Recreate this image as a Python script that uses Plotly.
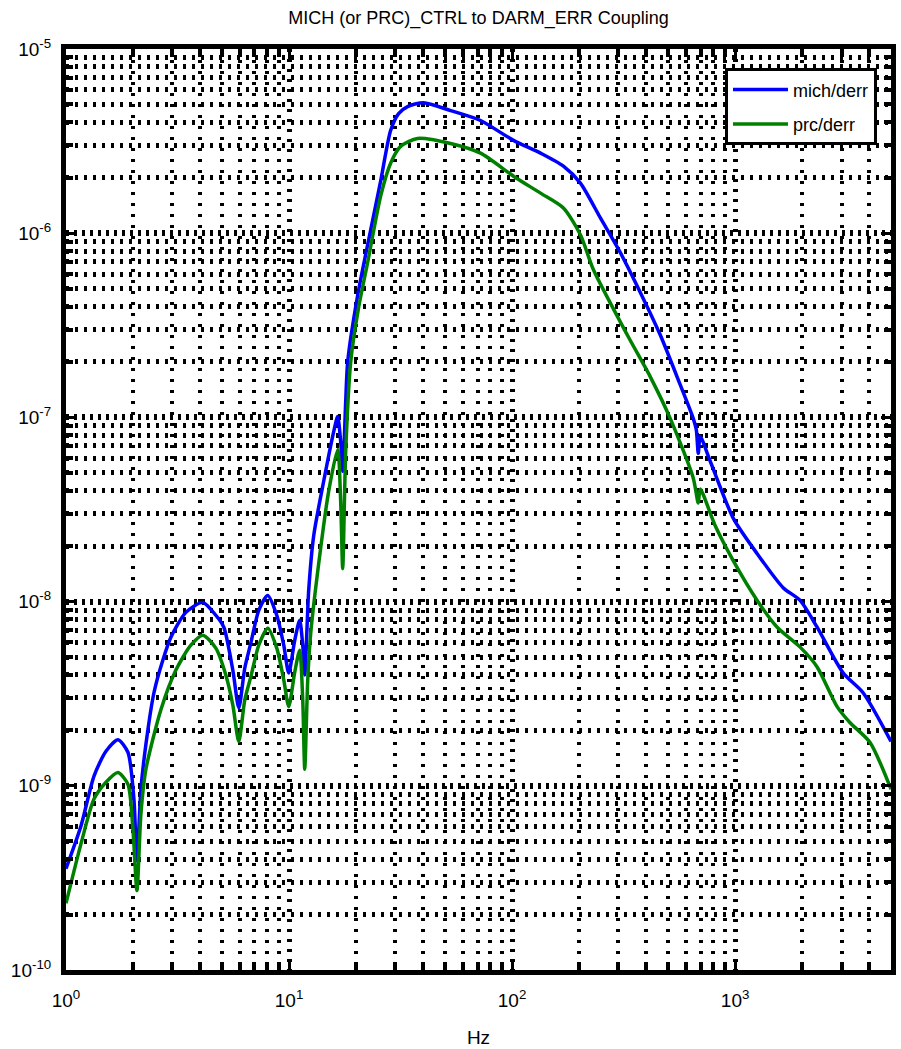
import math
import plotly.graph_objects as go

# Coupling transfer functions (magnitude) read as frequency [Hz] / value pairs
mich_f = [1.0, 1.167, 1.335, 1.511, 1.71, 1.895, 2.016, 2.08, 2.167, 2.282,
          2.479, 2.719, 2.953, 3.447, 4.107, 4.696, 5.10, 5.596, 5.953, 6.333,
          6.738, 7.317, 8.027, 8.81, 9.469, 9.97, 10.61, 11.16, 11.52, 11.76,
          12.25, 12.9, 14.3, 15.86, 16.52, 17.04, 17.4, 17.95, 18.32, 20.31,
          23.22, 25.75, 28.54, 30.99, 34.0, 40.11, 52.98, 72.2, 101.5, 134.1,
          169.9, 202.5, 248.9, 305.8, 375.8, 461.9, 567.7, 649.4, 669.7, 683.7,
          697.9, 773.5, 980.6, 1256, 1642, 1957, 2332, 3049, 3747, 5000]
mich_v = [3.55e-10, 6.05e-10, 1.13e-9, 1.54e-9, 1.78e-9, 1.52e-9, 8.47e-10, 3.92e-10, 9.59e-10, 1.68e-9,
          3.2e-9, 4.82e-9, 6.41e-9, 8.74e-9, 9.9e-9, 8.43e-9, 7.26e-9, 4.25e-9, 2.65e-9, 4.36e-9,
          5.95e-9, 8.96e-9, 1.08e-8, 8.43e-9, 5.8e-9, 4.1e-9, 6.18e-9, 7.92e-9, 5.8e-9, 4.0e-9,
          1.15e-8, 2.28e-8, 4.5e-8, 8.38e-8, 1.01e-7, 7.4e-8, 5.1e-8, 1.22e-7, 2.0e-7, 4.6e-7,
          1.04e-6, 1.92e-6, 3.61e-6, 4.46e-6, 4.87e-6, 5.11e-6, 4.63e-6, 4.09e-6, 3.19e-6, 2.72e-6,
          2.31e-6, 1.87e-6, 1.21e-6, 7.84e-7, 4.77e-7, 2.8e-7, 1.5e-7, 9.85e-8, 8.59e-8, 6.38e-8,
          7.87e-8, 5.78e-8, 2.84e-8, 1.82e-8, 1.19e-8, 1.015e-8, 7.26e-9, 4.1e-9, 3.2e-9, 1.74e-9]

prc_f = [1.0, 1.167, 1.335, 1.511, 1.71, 1.895, 1.995, 2.08, 2.167, 2.282,
         2.664, 3.11, 3.629, 4.107, 4.696, 5.206, 5.596, 5.953, 6.333, 6.738,
         7.317, 8.027, 8.81, 9.469, 9.97, 10.61, 11.16, 11.52, 11.76, 12.13,
         12.51, 13.87, 15.06, 16.52, 17.04, 17.4, 17.95, 18.9, 20.52, 22.51,
         25.75, 28.54, 31.63, 37.71, 52.98, 72.2, 101.5, 134.1, 169.9, 202.5,
         231.4, 328.7, 416.7, 512.2, 649.4, 683.7, 697.9, 814.5, 980.6, 1256,
         1544, 1957, 2332, 2866, 3277, 4027, 5000]
prc_v = [2.3e-10, 4.84e-10, 8.47e-10, 1.045e-9, 1.18e-9, 1.02e-9, 5.83e-10, 2.7e-10, 7.03e-10, 1.23e-9,
         2.59e-9, 4.25e-9, 5.8e-9, 6.57e-9, 5.59e-9, 4.0e-9, 2.75e-9, 1.74e-9, 2.93e-9, 3.9e-9,
         5.8e-9, 7.17e-9, 5.59e-9, 3.76e-9, 2.69e-9, 4.15e-9, 5.45e-9, 2.93e-9, 1.23e-9, 3.76e-9,
         6.74e-9, 1.96e-8, 3.98e-8, 6.7e-8, 3.51e-8, 1.51e-8, 6.54e-8, 2.0e-7, 3.96e-7, 6.92e-7,
         1.59e-6, 2.4e-6, 2.96e-6, 3.27e-6, 3.07e-6, 2.72e-6, 2.04e-6, 1.65e-6, 1.37e-6, 9.8e-7,
         6.35e-7, 2.8e-7, 1.66e-7, 9.85e-8, 4.68e-8, 3.43e-8, 4.08e-8, 2.58e-8, 1.67e-8, 1.015e-8,
         7.26e-9, 5.66e-9, 4.42e-9, 2.69e-9, 2.2e-9, 1.72e-9, 9.59e-10]

# Axis tick labels
x_tickvals = [1, 10, 100, 1000]
x_ticktext = ["10<sup>0</sup>", "10<sup>1</sup>", "10<sup>2</sup>", "10<sup>3</sup>"]
y_tickvals = [1e-10, 1e-9, 1e-8, 1e-7, 1e-6, 1e-5]
y_ticktext = ["10<sup>-10</sup>", "10<sup>-9</sup>", "10<sup>-8</sup>",
              "10<sup>-7</sup>", "10<sup>-6</sup>", "10<sup>-5</sup>"]

X_MAX = 5000
FONT = "Liberation Sans, Arial, Helvetica, sans-serif"

x_minor = [m * 10 ** d for d in range(0, 4) for m in range(2, 10) if m * 10 ** d < X_MAX]
y_minor = [m * 10.0 ** d for d in range(-10, -5) for m in range(2, 10)]

fig = go.Figure()
fig.add_trace(go.Scatter(
    x=mich_f, y=mich_v, mode="lines", name="mich/derr", legendgroup="a",
    line=dict(color="#0000FF", width=3.5, shape="spline", smoothing=0.7)))
fig.add_trace(go.Scatter(
    x=prc_f, y=prc_v, mode="lines", name="prc/derr", legendgroup="b",
    line=dict(color="#008000", width=3.5, shape="spline", smoothing=0.7)))

common = dict(
    ticks="inside", ticklen=10, tickwidth=3, tickcolor="black",
    showline=True, linewidth=5, linecolor="black", mirror="allticks",
    showgrid=True, gridcolor="black",
    zeroline=False, automargin=False,
    tickfont=dict(family=FONT, size=19, color="black"),
)

fig.update_xaxes(
    type="log", range=[0, math.log10(X_MAX)],
    tickmode="array", tickvals=x_tickvals, ticktext=x_ticktext,
    gridwidth=5, griddash="3px,7px", ticklabelstandoff=9,
    minor=dict(tickmode="array", tickvals=x_minor, ticks="inside", ticklen=8,
               tickwidth=4, tickcolor="black", showgrid=True,
               gridcolor="black", gridwidth=4, griddash="3px,8px"),
    title=dict(text="Hz", font=dict(family=FONT, size=19, color="black"), standoff=22),
    **common)

fig.update_yaxes(
    type="log", range=[-10, -5],
    tickmode="array", tickvals=y_tickvals, ticktext=y_ticktext,
    gridwidth=6, griddash="3px,5px", ticklabelstandoff=6,
    minor=dict(tickmode="array", tickvals=y_minor, ticks="inside", ticklen=7,
               tickwidth=4, tickcolor="black", showgrid=True,
               gridcolor="black", gridwidth=5, griddash="3px,6px"),
    **common)

fig.update_layout(
    width=901, height=1049,
    margin=dict(l=66, r=10, t=49, b=79),
    paper_bgcolor="white", plot_bgcolor="white",
    title=dict(text="MICH (or PRC)_CTRL to DARM_ERR Coupling",
               font=dict(family=FONT, size=18, color="black"),
               x=0.5, xref="paper", xanchor="center",
               y=1 - 18 / 1049, yref="container", yanchor="middle"),
    legend=dict(x=0.983, xanchor="right", y=0.979, yanchor="top",
                bgcolor="white", bordercolor="black", borderwidth=3,
                font=dict(family=FONT, size=18, color="black"),
                itemwidth=55, tracegroupgap=8, traceorder="grouped"),
    showlegend=True,
)

fig.write_html("out.html")
